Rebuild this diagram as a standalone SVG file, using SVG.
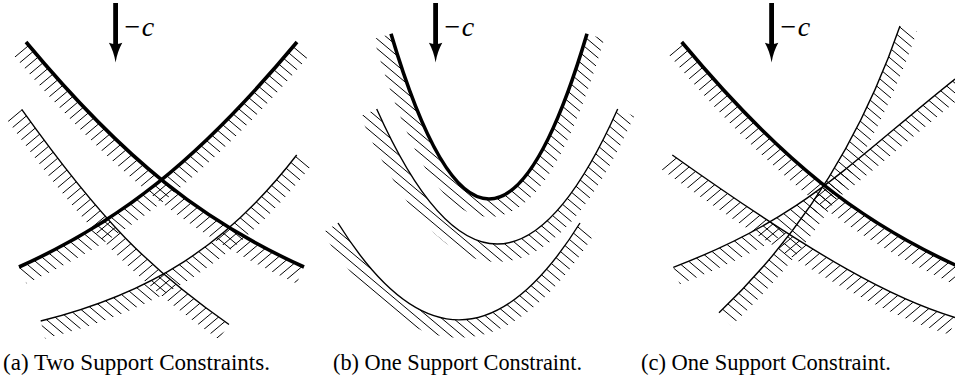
<svg xmlns="http://www.w3.org/2000/svg" width="955" height="381" viewBox="0 0 955 381">
<style>
.h{stroke:#000;stroke-width:1;fill:none}
.thick{fill:none;stroke:#000;stroke-width:3.6}
.thin{fill:none;stroke:#000;stroke-width:1.4}
.band{fill:none;stroke:#fff;stroke-width:36;stroke-linecap:butt}
.cap{font-family:"Liberation Serif","Times New Roman",serif;font-size:22.5px;fill:#000}
.lbl{font-family:"Liberation Serif","Times New Roman",serif;font-size:28px;fill:#000}
</style>
<defs>
<line id="lnw" x1="-510" y1="-20" x2="-9.5" y2="400" class="h"/>
<g id="nw2"><use href="#lnw"/><use href="#lnw" x="11.67"/></g>
<g id="nw4"><use href="#nw2"/><use href="#nw2" x="23.34"/></g>
<g id="nw8"><use href="#nw4"/><use href="#nw4" x="46.68"/></g>
<g id="nw16"><use href="#nw8"/><use href="#nw8" x="93.36"/></g>
<g id="nw32"><use href="#nw16"/><use href="#nw16" x="186.72"/></g>
<g id="nw64"><use href="#nw32"/><use href="#nw32" x="373.44"/></g>
<g id="hnw"><use href="#nw64"/><use href="#nw64" x="746.88"/></g>
<line id="lne" x1="-10" y1="-20" x2="-510.5" y2="400" class="h"/>
<g id="ne2"><use href="#lne"/><use href="#lne" x="11.67"/></g>
<g id="ne4"><use href="#ne2"/><use href="#ne2" x="23.34"/></g>
<g id="ne8"><use href="#ne4"/><use href="#ne4" x="46.68"/></g>
<g id="ne16"><use href="#ne8"/><use href="#ne8" x="93.36"/></g>
<g id="ne32"><use href="#ne16"/><use href="#ne16" x="186.72"/></g>
<g id="ne64"><use href="#ne32"/><use href="#ne32" x="373.44"/></g>
<g id="hne"><use href="#ne64"/><use href="#ne64" x="746.88"/></g>
<g id="arrow"><rect x="113.2" y="3" width="4.8" height="42"/><path d="M115.6,62.5 Q114,52 108.9,42.8 Q115.6,45.6 122.3,42.8 Q117.2,52 115.6,62.5 Z"/></g>
<clipPath id="cA1"><path d="M-166,-188 L26,42 C126,162 204,222 304,267 L578,390 L578,1000 L-1000,1000 L-1000,-188 Z"/></clipPath>
<clipPath id="cA2"><path d="M-255,390 L19,267 C119,222 197,162 297,42 L489,-188 L1500,-188 L1500,1000 L-255,1000 Z"/></clipPath>
<clipPath id="cA3"><path d="M-152,-135 L21.7,109.3 C101.7,221.3 149,268.5 229,324.5 L475,496 L475,1000 L-1000,1000 L-1000,-135 Z"/></clipPath>
<clipPath id="cA4"><path d="M-250,394 L40.7,321 C150.7,293.5 226.7,246 296.7,155 L480,-83 L1500,-83 L1500,1000 L-250,1000 Z"/></clipPath>
<clipPath id="cB1"><path d="M306,-254 L391,33.8 Q489,364.2 587,33.8 L672,-254 L1500,-254 L1500,1000 L-500,1000 L-500,-254 Z"/></clipPath>
<clipPath id="cB2"><path d="M254.7,-165 L376.7,109 Q497.2,379 617.7,109 L739.7,-165 L1500,-165 L1500,1000 L-500,1000 L-500,-165 Z"/></clipPath>
<clipPath id="cB3"><path d="M179,-31 L338,223 Q459,416.7 580,223 L739,-31 L1500,-31 L1500,1000 L-500,1000 L-500,-31 Z"/></clipPath>
<clipPath id="cC1"><path d="M489.7,-188 L681.7,42 C781.7,162 859.7,222 959.7,267 L1233.7,390 L1233.7,1000 L-1000,1000 L-1000,-188 Z"/></clipPath>
<clipPath id="cC2"><path d="M427,-19 L672.3,155 C822.3,261.5 895,299.5 955,317.5 L1242,404 L1242,1000 L-1000,1000 L-1000,-19 Z"/></clipPath>
<clipPath id="cC3"><path d="M501,520 L719,312.7 C809,227.2 865,127.5 900,26 L998,-258 L2000,-258 L2000,1000 L501,1000 Z"/></clipPath>
<clipPath id="cC4"><path d="M393,374 L673.3,267.3 C803.3,217.9 845,167 955,79 L1189,-108 L2000,-108 L2000,1000 L393,1000 Z"/></clipPath>
<mask id="mA1" maskUnits="userSpaceOnUse" x="-100" y="-100" width="1200" height="600"><path class="band" d="M26,42 C126,162 204,222 304,267"/></mask>
<mask id="mA2" maskUnits="userSpaceOnUse" x="-100" y="-100" width="1200" height="600"><path class="band" d="M19,267 C119,222 197,162 297,42"/></mask>
<mask id="mA3" maskUnits="userSpaceOnUse" x="-100" y="-100" width="1200" height="600"><path class="band" d="M21.7,109.3 C101.7,221.3 149,268.5 229,324.5"/></mask>
<mask id="mA4" maskUnits="userSpaceOnUse" x="-100" y="-100" width="1200" height="600"><path class="band" d="M40.7,321 C150.7,293.5 226.7,246 296.7,155"/></mask>
<mask id="mB1" maskUnits="userSpaceOnUse" x="-100" y="-100" width="1200" height="600"><path class="band" d="M391,33.8 Q489,364.2 587,33.8"/></mask>
<mask id="mB2" maskUnits="userSpaceOnUse" x="-100" y="-100" width="1200" height="600"><path class="band" d="M376.7,109 Q497.2,379 617.7,109"/></mask>
<mask id="mB3" maskUnits="userSpaceOnUse" x="-100" y="-100" width="1200" height="600"><path class="band" d="M338,223 Q459,416.7 580,223"/></mask>
<mask id="mC1" maskUnits="userSpaceOnUse" x="-100" y="-100" width="1200" height="600"><path class="band" d="M681.7,42 C781.7,162 859.7,222 959.7,267"/></mask>
<mask id="mC2" maskUnits="userSpaceOnUse" x="-100" y="-100" width="1200" height="600"><path class="band" d="M672.3,155 C822.3,261.5 895,299.5 955,317.5"/></mask>
<mask id="mC3" maskUnits="userSpaceOnUse" x="-100" y="-100" width="1200" height="600"><path class="band" d="M719,312.7 C809,227.2 865,127.5 900,26"/></mask>
<mask id="mC4" maskUnits="userSpaceOnUse" x="-100" y="-100" width="1200" height="600"><path class="band" d="M673.3,267.3 C803.3,217.9 845,167 955,79"/></mask>
</defs>
<rect width="955" height="381" fill="#fff"/>

<g id="panel-a">
<g id="a-hatch">
<g clip-path="url(#cA1)" mask="url(#mA1)"><use href="#hne"/></g>
<g clip-path="url(#cA2)" mask="url(#mA2)"><use href="#hnw"/></g>
<g clip-path="url(#cA3)" mask="url(#mA3)"><use href="#hne"/></g>
<g clip-path="url(#cA4)" mask="url(#mA4)"><use href="#hnw"/></g>
</g>
<g id="a-curves">
<path class="thin" d="M21.7,109.3 C101.7,221.3 149,268.5 229,324.5"/>
<path class="thin" d="M40.7,321 C150.7,293.5 226.7,246 296.7,155"/>
<path class="thick" d="M26,42 C126,162 204,222 304,267"/>
<path class="thick" d="M19,267 C119,222 197,162 297,42"/>
</g>
<use href="#arrow"/>
<text class="lbl" x="124.5" y="35.5">−<tspan font-style="italic" dx="1.5">c</tspan></text>
<text class="cap" x="3" y="369.5" textLength="267" lengthAdjust="spacingAndGlyphs">(a) Two Support Constraints.</text>
</g>

<g id="panel-b">
<g id="b-hatch">
<g clip-path="url(#cB1)" mask="url(#mB1)"><use href="#hnw"/></g>
<g clip-path="url(#cB2)" mask="url(#mB2)"><use href="#hnw"/></g>
<g clip-path="url(#cB3)" mask="url(#mB3)"><use href="#hnw"/></g>
</g>
<g id="b-curves">
<path class="thin" d="M376.7,109 Q497.2,379 617.7,109"/>
<path class="thin" d="M338,223 Q459,416.7 580,223"/>
<path class="thick" d="M391,33.8 Q489,364.2 587,33.8"/>
</g>
<use href="#arrow" transform="translate(320,0)"/>
<text class="lbl" x="444.5" y="35.5">−<tspan font-style="italic" dx="1.5">c</tspan></text>
<text class="cap" x="333" y="369.5" textLength="249" lengthAdjust="spacingAndGlyphs">(b) One Support Constraint.</text>
</g>

<g id="panel-c">
<g id="c-hatch">
<g clip-path="url(#cC1)" mask="url(#mC1)"><use href="#hne"/></g>
<g clip-path="url(#cC2)" mask="url(#mC2)"><use href="#hne"/></g>
<g clip-path="url(#cC3)" mask="url(#mC3)"><use href="#hnw"/></g>
<g clip-path="url(#cC4)" mask="url(#mC4)"><use href="#hnw"/></g>
</g>
<g id="c-curves">
<path class="thin" d="M672.3,155 C822.3,261.5 895,299.5 955,317.5"/>
<path class="thin" d="M719,312.7 C809,227.2 865,127.5 900,26"/>
<path class="thin" d="M673.3,267.3 C803.3,217.9 845,167 955,79"/>
<path class="thick" d="M681.7,42 C781.7,162 859.7,222 959.7,267"/>
</g>
<use href="#arrow" transform="translate(656,0)"/>
<text class="lbl" x="780.5" y="35.5">−<tspan font-style="italic" dx="1.5">c</tspan></text>
<text class="cap" x="641" y="369.5" textLength="250" lengthAdjust="spacingAndGlyphs">(c) One Support Constraint.</text>
</g>
</svg>
